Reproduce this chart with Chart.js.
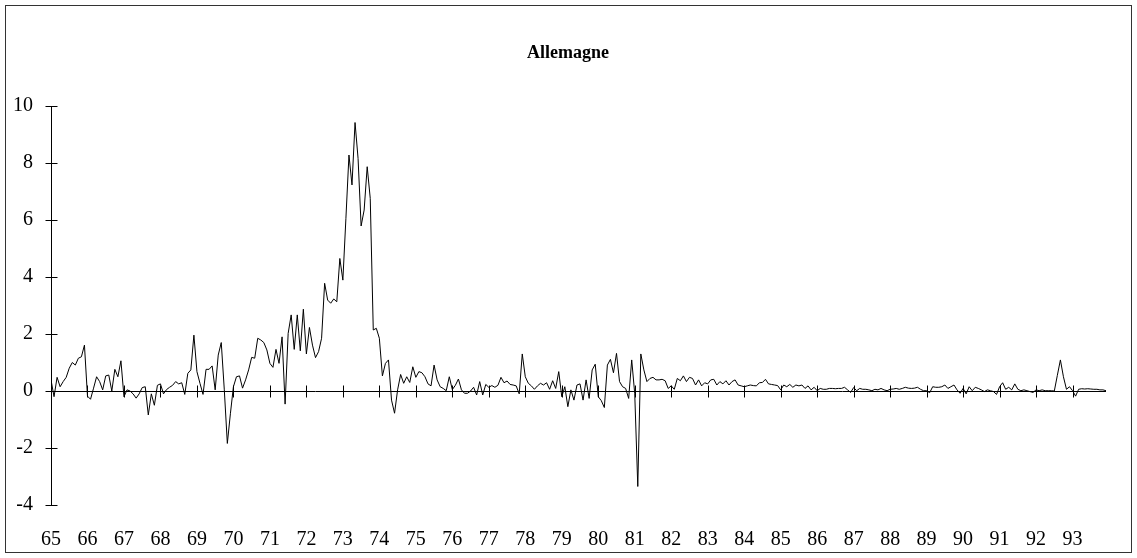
<!DOCTYPE html>
<html>
<head>
<meta charset="utf-8">
<script src="https://cdn.jsdelivr.net/npm/chart.js@4"></script>
<style>
  html, body { margin: 0; padding: 0; background: #ffffff; }
  #wrap { position: relative; width: 1137px; height: 558px; }
  #frame { position: absolute; left: 5px; top: 5px; width: 1127px; height: 548px; box-sizing: border-box; border: 1px solid #333; pointer-events: none; }
</style>
</head>
<body>
<div id="wrap">
  <canvas id="c" width="1137" height="558"></canvas>
  <div id="frame"></div>
</div>
<script>
// Tick labels
const yearLabels = ['65','66','67','68','69','70','71','72','73','74','75','76','77','78','79','80','81','82','83','84','85','86','87','88','89','90','91','92','93'];
const yTickValues = [-4, -2, 0, 2, 4, 6, 8, 10];
const chartTitle = 'Allemagne';

// Monthly values (Jan..Dec), grouped by period
const v1965_1969 = [
  0.39, -0.2, 0.48, 0.15, 0.33, 0.48, 0.8, 1.0, 0.91, 1.15, 1.2, 1.61,
  -0.18, -0.29, 0.1, 0.5, 0.33, 0.04, 0.53, 0.56, 0.0, 0.76, 0.5, 1.06,
  -0.2, 0.04, 0.0, -0.1, -0.25, -0.1, 0.12, 0.15, -0.84, -0.1, -0.5, 0.2,
  0.25, -0.1, 0.05, 0.13, 0.2, 0.33, 0.25, 0.29, -0.12, 0.62, 0.74, 1.96,
  0.68, 0.27, -0.12, 0.76, 0.76, 0.88, 0.04, 1.26, 1.7, 0.04, -1.84, -0.8
];
const v1970_1974 = [
  0.15, 0.5, 0.53, 0.1, 0.39, 0.74, 1.18, 1.15, 1.85, 1.79, 1.7, 1.44,
  0.97, 0.83, 1.46, 0.97, 1.9, -0.46, 2.02, 2.67, 1.46, 2.67, 1.41, 2.87,
  1.3, 2.23, 1.61, 1.17, 1.38, 1.85, 3.78, 3.19, 3.08, 3.23, 3.13, 4.65,
  3.89, 6.06, 8.28, 7.23, 9.42, 8.16, 5.79, 6.35, 7.87, 6.76, 2.14, 2.2,
  1.85, 0.53, 0.97, 1.09, -0.32, -0.78, 0.04, 0.58, 0.27, 0.5, 0.3, 0.85
];
const v1975_1979 = [
  0.48, 0.68, 0.64, 0.5, 0.25, 0.18, 0.91, 0.39, 0.15, 0.09, 0.01, 0.5,
  0.05, 0.2, 0.42, 0.04, -0.08, -0.08, 0.0, 0.13, -0.14, 0.33, -0.14, 0.23,
  0.13, 0.19, 0.13, 0.2, 0.48, 0.29, 0.35, 0.23, 0.21, 0.18, -0.1, 1.3,
  0.5, 0.27, 0.18, 0.06, 0.18, 0.27, 0.21, 0.29, 0.06, 0.36, 0.09, 0.68,
  -0.2, 0.15, -0.55, 0.04, -0.32, 0.21, 0.25, -0.32, 0.39, -0.26, 0.74, 0.94
];
const v1980_1984 = [
  -0.2, -0.34, -0.58, 0.91, 1.11, 0.64, 1.32, 0.33, 0.15, 0.09, -0.26, 1.09,
  -0.1, -3.35, 1.3, 0.74, 0.33, 0.44, 0.48, 0.39, 0.39, 0.41, 0.36, 0.09,
  0.18, 0.06, 0.44, 0.36, 0.53, 0.33, 0.48, 0.44, 0.21, 0.39, 0.18, 0.29,
  0.25, 0.39, 0.41, 0.21, 0.33, 0.25, 0.36, 0.21, 0.33, 0.39, 0.21, 0.18,
  0.15, 0.18, 0.21, 0.19, 0.18, 0.29, 0.3, 0.41, 0.25, 0.23, 0.21, 0.19
];
const v1985_1989 = [
  0.04, 0.21, 0.15, 0.23, 0.13, 0.21, 0.18, 0.21, 0.09, 0.18, 0.04, 0.13,
  0.01, 0.09, 0.06, 0.06, 0.09, 0.09, 0.08, 0.09, 0.09, 0.13, 0.04, -0.05,
  0.12, 0.01, 0.09, 0.06, 0.06, 0.04, 0.01, 0.06, 0.04, 0.09, 0.04, 0.01,
  0.06, 0.07, 0.09, 0.06, 0.09, 0.13, 0.1, 0.09, 0.1, 0.13, 0.06, 0.01,
  0.01, -0.06, 0.15, 0.13, 0.13, 0.15, 0.21, 0.09, 0.15, 0.21, 0.04, -0.08
];
const v1990_1993 = [
  0.09, -0.1, 0.15, 0.01, 0.13, 0.09, 0.04, -0.02, 0.04, 0.01, -0.02, -0.12,
  0.15, 0.29, 0.06, 0.13, 0.04, 0.25, 0.06, 0.01, 0.04, 0.01, -0.02, -0.05,
  0.04, 0.01, 0.04, 0.01, 0.01, 0.01, 0.0, 0.55, 1.09, 0.5, 0.06, 0.15,
  0.01, -0.18, 0.06, 0.08, 0.07, 0.08, 0.07, 0.06, 0.06, 0.04, 0.04, 0.01
];

const monthly = [].concat(v1965_1969, v1970_1974, v1975_1979, v1980_1984, v1985_1989, v1990_1993);
const points = monthly.map((v, i) => ({ x: i / 12, y: v }));
const xMax = (monthly.length - 1) / 12;

const serif = "'Liberation Serif', 'Times New Roman', serif";
const tickFont = { family: serif, size: 20 };

// Tick marks that cross the axes (both sides), positioned by the chart's own scales
const crossTicks = {
  id: 'crossTicks',
  afterDatasetsDraw(chart) {
    const { ctx, chartArea } = chart;
    const xs = chart.scales.x, ys = chart.scales.y;
    const half = 6;
    const y0 = Math.round(ys.getPixelForValue(0)) + 0.5;
    const x0 = Math.round(chartArea.left) + 0.5;
    ctx.save();
    ctx.strokeStyle = '#000000';
    ctx.lineWidth = 1;
    ctx.beginPath();
    xs.ticks.forEach(t => {
      const px = Math.round(xs.getPixelForValue(t.value)) + 0.5;
      ctx.moveTo(px, y0 - half);
      ctx.lineTo(px, y0 + half);
    });
    ys.ticks.forEach(t => {
      const py = Math.round(ys.getPixelForValue(t.value)) + 0.5;
      ctx.moveTo(x0 - half, py);
      ctx.lineTo(x0 + half, py);
    });
    ctx.stroke();
    ctx.restore();
  }
};

new Chart(document.getElementById('c'), {
  type: 'line',
  data: {
    datasets: [{
      data: points,
      borderColor: '#000000',
      borderWidth: 1,
      pointRadius: 0,
      tension: 0,
      xAxisID: 'x',
      yAxisID: 'y'
    }]
  },
  options: {
    responsive: false,
    animation: false,
    layout: { padding: { left: 13, right: 14, top: 0, bottom: 6 } },
    plugins: {
      legend: { display: false },
      tooltip: { enabled: false },
      title: {
        display: true,
        text: chartTitle,
        color: '#000000',
        font: { family: serif, size: 18, weight: 'bold' },
        padding: { top: 43, bottom: 41.4 }
      }
    },
    scales: {
      x: {
        type: 'linear',
        position: 'bottom',
        min: 0,
        max: xMax,
        afterFit: (scale) => { scale.height = 47; },
        grid: { display: false, drawTicks: false },
        border: { display: false },
        ticks: {
          stepSize: 1,
          includeBounds: false,
          autoSkip: false,
          maxRotation: 0,
          padding: 23,
          color: '#000000',
          font: tickFont,
          callback: (v) => (Number.isInteger(v) && yearLabels[v] !== undefined) ? yearLabels[v] : ''
        }
      },
      y: {
        type: 'linear',
        position: 'left',
        min: yTickValues[0],
        max: yTickValues[yTickValues.length - 1],
        afterFit: (scale) => { scale.width = 38; },
        grid: {
          drawTicks: false,
          lineWidth: 1,
          color: (ctx) => (ctx.tick && ctx.tick.value === 0) ? '#000000' : 'rgba(0,0,0,0)'
        },
        border: { display: true, color: '#000000', width: 1 },
        ticks: {
          stepSize: 2,
          padding: 18,
          color: '#000000',
          font: tickFont,
          callback: (v) => yTickValues.includes(v) ? String(v) : ''
        }
      },
      yRight: {
        type: 'linear',
        axis: 'y',
        position: 'right',
        min: yTickValues[0],
        max: yTickValues[yTickValues.length - 1],
        afterFit: (scale) => { scale.width = 17; },
        grid: { display: false, drawTicks: false },
        border: { display: false },
        ticks: { display: false }
      }
    }
  },
  plugins: [crossTicks]
});
</script>
</body>
</html>
